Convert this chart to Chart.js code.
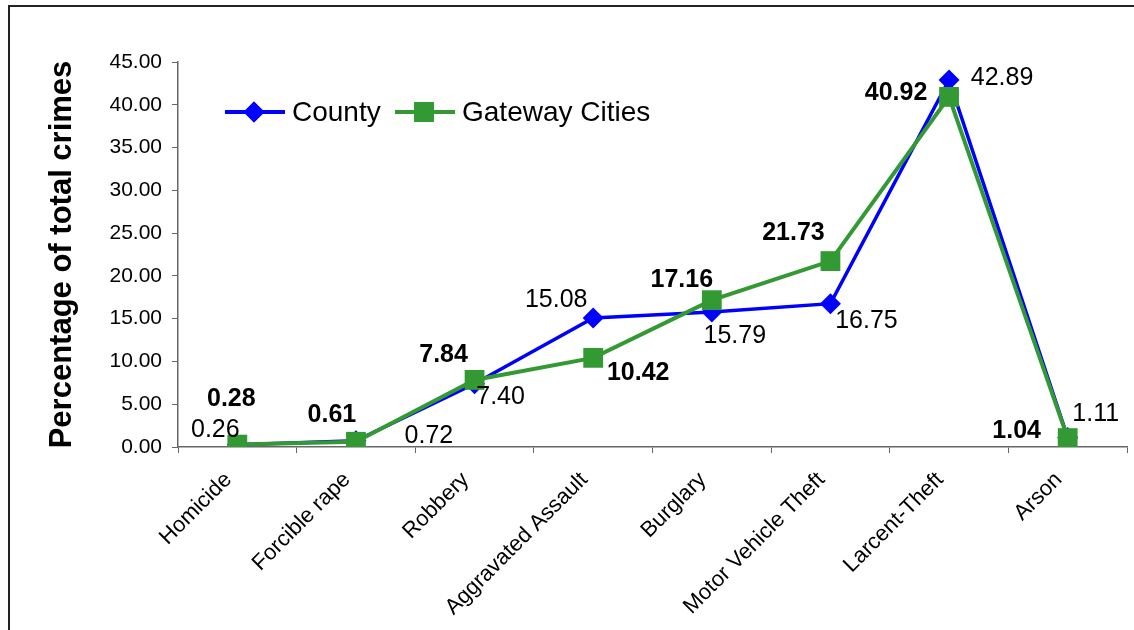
<!DOCTYPE html>
<html>
<head>
<meta charset="utf-8">
<script src="https://cdn.jsdelivr.net/npm/chart.js@4/dist/chart.umd.min.js"></script>
<style>
    html, body { margin: 0; padding: 0; background: #fff; }
    .frame {
        position: absolute;
        left: 8px;
        top: 5px;
        width: 1140px;
        height: 640px;
        border-left: 2px solid #222;
        border-top: 2px solid #222;
    }
    .wrap { position: absolute; left: 0; top: 0; width: 1134px; height: 630px; }
</style>
</head>
<body>
<div class="frame"></div>
<div class="wrap"><canvas id="crimeChart" width="1134" height="630"></canvas></div>
<script>
const categories = ['Homicide', 'Forcible rape', 'Robbery', 'Aggravated Assault', 'Burglary', 'Motor Vehicle Theft', 'Larcent-Theft', 'Arson']
const countyValues = [0.26, 0.72, 7.40, 15.08, 15.79, 16.75, 42.89, 1.11]
const gatewayValues = [0.28, 0.61, 7.84, 10.42, 17.16, 21.73, 40.92, 1.04]
const yTicks = [0, 5, 10, 15, 20, 25, 30, 35, 40, 45]

// where each value label sits relative to its point (dx, dy in px)
const countyLabelOffsets = [[-22, -15], [73, -5], [26, 13], [-37, -18], [23, 24], [36, 17], [53, -2], [28, -23]]
const gatewayLabelOffsets = [[-6, -45], [-24, -27], [-31, -25], [45, 15], [-30, -20], [-37, -28], [-53, -4], [-51, -7]]

const FONT = '"Liberation Sans", Arial, sans-serif'
const BLUE = '#0000ff'
const GREEN = '#339933'

const valueLabels = {
    id: 'valueLabels',
    afterDatasetsDraw(chart) {
        const ctx = chart.ctx
        ctx.save()
        ctx.textAlign = 'center'
        ctx.textBaseline = 'middle'
        ctx.fillStyle = '#000'
        chart.data.datasets.forEach((ds, di) => {
            const meta = chart.getDatasetMeta(di)
            const offsets = di === 0 ? countyLabelOffsets : gatewayLabelOffsets
            ctx.font = (di === 0 ? '' : 'bold ') + '25px ' + FONT
            meta.data.forEach((pt, i) => {
                ctx.fillText(ds.data[i].toFixed(2), pt.x + offsets[i][0], pt.y + offsets[i][1])
            })
        })
        ctx.restore()
    }
}

// legend drawn inside the plot, top left
const insideLegend = {
    id: 'insideLegend',
    afterDraw(chart) {
        const ctx = chart.ctx
        const items = [
            { text: 'County', color: BLUE, style: 'rectRot', radius: 10.5, x: 225 },
            { text: 'Gateway Cities', color: GREEN, style: 'rect', radius: 14, x: 395 }
        ]
        const y = 112
        ctx.save()
        ctx.font = '28px ' + FONT
        ctx.textBaseline = 'middle'
        items.forEach(item => {
            ctx.strokeStyle = item.color
            ctx.lineWidth = 4
            ctx.beginPath()
            ctx.moveTo(item.x, y)
            ctx.lineTo(item.x + 60, y)
            ctx.stroke()
            ctx.fillStyle = item.color
            Chart.helpers.drawPoint(ctx, { pointStyle: item.style, radius: item.radius, borderWidth: 0 }, item.x + 29, y)
            ctx.fill()
            ctx.fillStyle = '#000'
            ctx.fillText(item.text, item.x + 67, y + 1)
        })
        ctx.restore()
    }
}

new Chart(document.getElementById('crimeChart'), {
    type: 'line',
    data: {
        labels: categories,
        datasets: [{
            label: 'County',
            data: countyValues,
            order: 1,
            borderColor: BLUE,
            backgroundColor: BLUE,
            borderWidth: 3.5,
            pointStyle: 'rectRot',
            pointRadius: 10.5,
            pointBorderWidth: 0,
            tension: 0
        }, {
            label: 'Gateway Cities',
            data: gatewayValues,
            order: 0,
            borderColor: GREEN,
            backgroundColor: GREEN,
            borderWidth: 4,
            pointStyle: 'rect',
            pointRadius: 14,
            pointBorderWidth: 0,
            tension: 0
        }]
    },
    options: {
        responsive: false,
        animation: false,
        devicePixelRatio: 1,
        layout: { autoPadding: false, padding: { top: 62, right: 7, bottom: 0, left: 0 } },
        plugins: {
            legend: { display: false },
            tooltip: { enabled: false }
        },
        scales: {
            x: {
                offset: true,
                grid: { offset: true, drawOnChartArea: false, tickLength: 6, color: '#666' },
                border: { color: '#666', width: 1.5 },
                ticks: {
                    minRotation: 45,
                    maxRotation: 45,
                    autoSkip: false,
                    padding: 14,
                    labelOffset: -9,
                    color: '#000',
                    font: { family: FONT, size: 22 }
                },
                afterFit: scale => {
                    scale.height = 183
                    scale.paddingLeft = 0
                    scale.paddingRight = 0
                }
            },
            y: {
                min: 0,
                max: 45,
                afterBuildTicks: scale => { scale.ticks = yTicks.map(v => ({ value: v })) },
                grid: { drawOnChartArea: false, tickLength: 6, color: '#666' },
                border: { color: '#666', width: 1.5 },
                ticks: {
                    padding: 10,
                    color: '#000',
                    font: { family: FONT, size: 21 },
                    callback: v => v.toFixed(2)
                },
                title: {
                    display: true,
                    text: 'Percentage of total crimes',
                    color: '#000',
                    font: { family: FONT, size: 31, weight: 'bold' },
                    padding: { top: 44, bottom: 0 }
                },
                afterFit: scale => { scale.width = 178 }
            }
        }
    },
    plugins: [valueLabels, insideLegend]
})
</script>
</body>
</html>
